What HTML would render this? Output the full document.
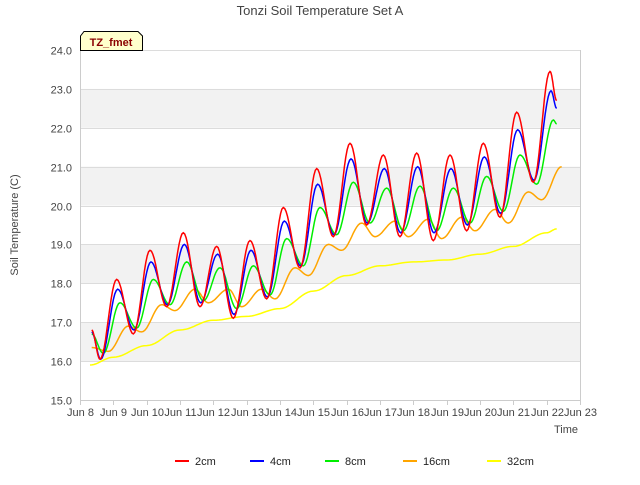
<!DOCTYPE html>
<html><head><meta charset="utf-8"><style>
body{margin:0;background:#fff;font-family:"Liberation Sans","DejaVu Sans",sans-serif}
</style></head><body>
<svg id="chart" width="640" height="480" xmlns="http://www.w3.org/2000/svg" font-family="Liberation Sans, DejaVu Sans, sans-serif">
<text x="320" y="15" text-anchor="middle" font-size="13" fill="#444">Tonzi Soil Temperature Set A</text>
<g id="bands"></g>
<g id="axes"></g>
<g id="series"></g>
<g>
<path d="M80.5,50.5 L80.5,36 L84,31.5 L138,31.5 L142.5,36 L142.5,50.5 Z" fill="#ffffcc" stroke="#000" stroke-width="1"/>
<text x="111" y="46" text-anchor="middle" font-size="11" font-weight="bold" fill="#8b0000">TZ_fmet</text>
</g>
<text x="18" y="225" transform="rotate(-90 18 225)" text-anchor="middle" font-size="11" fill="#444">Soil Temperature (C)</text>
<text x="566" y="433" text-anchor="middle" font-size="11" fill="#444">Time</text>
<g id="legend"></g>
</svg>
<script>
// data
const days = [8,9,10,11,12,13,14,15,16,17,18,19,20,21];
const peaks2 = [18.1,18.85,19.3,18.95,19.1,19.95,20.95,21.6,21.3,21.35,21.3,21.6,22.4,23.45];
const lows2  = [16.05,16.7,17.4,17.4,17.1,17.6,18.4,19.2,19.5,19.2,19.1,19.35,19.7,20.6];
const peaks4 = [17.85,18.55,19.0,18.75,18.85,19.6,20.55,21.2,20.95,21.0,20.95,21.25,21.95,22.95];
const lows4  = [16.05,16.8,17.45,17.5,17.2,17.65,18.45,19.25,19.55,19.3,19.3,19.5,19.8,20.65];
const peaks8 = [17.5,18.1,18.55,18.4,18.45,19.15,19.95,20.6,20.45,20.5,20.45,20.75,21.3,22.2];
const lows8  = [16.2,16.85,17.45,17.55,17.35,17.7,18.45,19.25,19.55,19.35,19.35,19.55,19.85,20.55];
const peaks16 = [16.9,17.45,17.85,17.85,17.85,18.4,19.0,19.55,19.6,19.65,19.7,19.9,20.35,21.0];
const lows16  = [16.25,16.75,17.3,17.5,17.4,17.6,18.2,18.85,19.2,19.2,19.15,19.35,19.55,20.15];
const start2=16.8, start4=16.75, start8=16.7, start16=16.35;
const end2=22.7, end4=22.5, end8=22.1;
const days32 = [8.3,9,10,11,12,13,14,15,16,17,18,19,20,21,22,22.3];
const vals32 = [15.9,16.1,16.4,16.8,17.05,17.15,17.35,17.8,18.2,18.45,18.55,18.6,18.75,18.95,19.3,19.4];
const yTicks = [15,16,17,18,19,20,21,22,23,24];
const xTicks = [8,9,10,11,12,13,14,15,16,17,18,19,20,21,22,23];
const names = ["2cm","4cm","8cm","16cm","32cm"];
const colors = ["#ff0000","#0000ff","#00ee00","#ffa500","#ffff00"];

const X0=80,X1=580,Y0=400,Y1=50;
const sx=d=>X0+(d-8)/15*(X1-X0);
const sy=v=>Y0-(v-15)/9*(Y0-Y1);
const NS="http://www.w3.org/2000/svg";
function mk(t,a,p){const e=document.createElementNS(NS,t);for(const k in a)e.setAttribute(k,a[k]);p.appendChild(e);return e;}

const bands=document.getElementById('bands');
const bg=mk('rect',{x:X0,y:Y1,width:X1-X0,height:Y0-Y1,fill:'#fff'},bands);


for(let v=16;v<24;v+=2){
  const r=mk('rect',{x:X0,y:sy(v+1),width:X1-X0,height:sy(v)-sy(v+1),fill:'#f2f2f2'},bands);
  
  
}
const axes=document.getElementById('axes');
yTicks.forEach(v=>{
  const y=Math.round(sy(v))+0.5;
  const l=mk('line',{x1:X0,x2:X1,y1:y,y2:y,stroke:'#dcdcdc'},axes);
  
  
  const t=mk('text',{x:X0-8,y:y+4,'text-anchor':'end','font-size':11,fill:'#444'},axes);
  t.textContent=v.toFixed(1);
  
  
});
const ax=mk('path',{d:`M${X0+0.5},${Y1} V${Y0+0.5} H${X1+0.5} V${Y1}`,fill:'none',stroke:'#ccc'},axes);


xTicks.forEach(d=>{
  const x=Math.round(sx(d))+0.5;
  mk('line',{x1:x,x2:x,y1:Y0,y2:Y0+5,stroke:'#ccc'},axes);
  const t=mk('text',{x:x,y:Y0+16,'text-anchor':'middle','font-size':11,fill:'#444'},axes);
  t.textContent='Jun '+d;
  
  
});

function cyclePts(startV,lows,peaks,endV,lowOff,peakOff){
  const p=[[8.35,startV]];
  days.forEach((d,i)=>{p.push([d+lowOff,lows[i]]);p.push([d+1+peakOff,peaks[i]]);});
  if(endV!==null)p.push([22.3,endV]);
  return p;
}
function pathFrom(pts){
  let s='';
  for(let i=0;i<pts.length-1;i++){
    const [t0,v0]=pts[i],[t1,v1]=pts[i+1];
    const n=12;
    for(let k=0;k<=n;k++){
      if(i>0&&k===0)continue;
      const f=k/n, g=(1-Math.cos(Math.PI*f))/2;
      const t=t0+(t1-t0)*f, v=v0+(v1-v0)*g;
      s+=(s?'L':'M')+sx(t).toFixed(1)+','+sy(v).toFixed(1);
    }
  }
  return s;
}
const seriesPts=[
  cyclePts(start2,lows2,peaks2,end2,0.6,0.1),
  cyclePts(start4,lows4,peaks4,end4,0.62,0.13),
  cyclePts(start8,lows8,peaks8,end8,0.7,0.2),
  cyclePts(start16,lows16,peaks16,null,0.85,0.45),
  days32.map((d,i)=>[d,vals32[i]])
];
const sg=document.getElementById('series');
for(let i=4;i>=0;i--){
  const p=mk('path',{d:pathFrom(seriesPts[i]),fill:'none',stroke:colors[i],'stroke-width':1.5},sg);
  
  
}
const lg=document.getElementById('legend');
const lx=[175,250,325,403,487];
names.forEach((n,i)=>{
  const g=mk('g',{},lg);
  
  
  mk('line',{x1:lx[i],x2:lx[i]+14,y1:461,y2:461,stroke:colors[i],'stroke-width':2},g);
  const t=mk('text',{x:lx[i]+20,y:465,'font-size':11,fill:'#222'},g);
  t.textContent=n;
});
</script>
</body></html>
